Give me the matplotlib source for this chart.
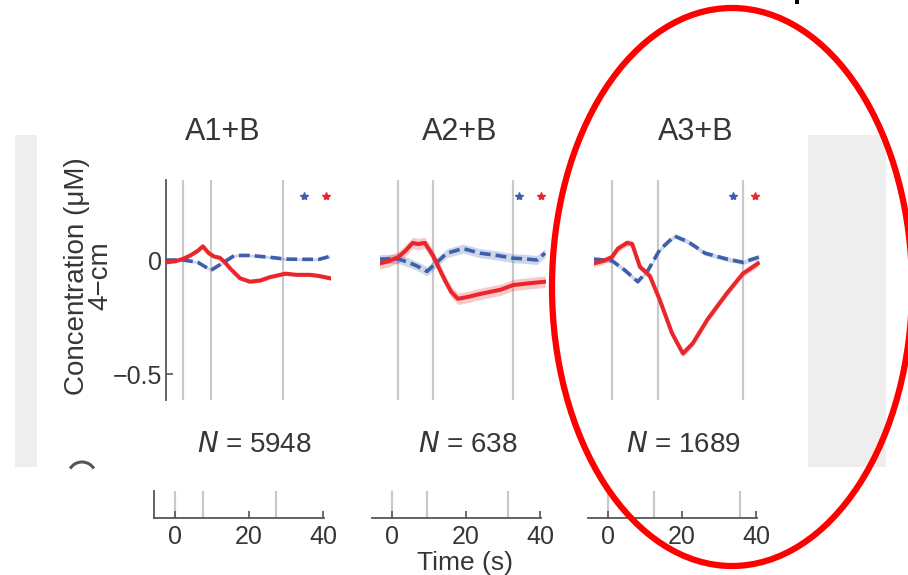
import matplotlib
matplotlib.use("Agg")
import matplotlib.pyplot as plt
from matplotlib.patches import Ellipse, Rectangle, Arc
import numpy as np

plt.rcParams['font.family'] = ['Liberation Sans', 'DejaVu Sans']

W, H = 908, 575

# ---- data (time in s, concentration in uM) ----
titles = ["A1+B", "A2+B", "A3+B"]
n_labels = ["5948", "638", "1689"]
event_times = [[0, 7.6, 27.2], [0, 9.5, 31.3], [0, 12.5, 35.6]]

red_t = [
    [-4.6, -2, 0, 2, 4, 5.4, 7, 8.5, 10, 11.4, 13, 15.5, 18.2, 21, 23.7, 27.8, 31, 34.6, 37, 40],
    [-5, -2.5, 0, 2, 4, 5.5, 7.3, 9.5, 11, 12.8, 14.5, 16.3, 18, 19.6, 22, 25, 28, 31.3, 34, 37, 40],
    [-5, -2.5, 0, 1.6, 4.1, 5.5, 7.6, 10.3, 13, 16.3, 19.3, 22, 26, 31.3, 35.6, 39.7],
]
red_v = [
    [-0.01, -0.005, 0.005, 0.02, 0.04, 0.06, 0.03, 0.015, 0.01, -0.01, -0.04, -0.08, -0.095, -0.09, -0.075, -0.06, -0.065, -0.065, -0.07, -0.08],
    [-0.015, -0.005, 0.012, 0.04, 0.075, 0.07, 0.075, 0.02, -0.03, -0.09, -0.14, -0.17, -0.165, -0.16, -0.15, -0.14, -0.13, -0.11, -0.105, -0.1, -0.095],
    [-0.015, -0.005, 0.013, 0.05, 0.075, 0.07, -0.03, -0.07, -0.175, -0.32, -0.41, -0.365, -0.26, -0.145, -0.06, -0.015],
]
red_err = [0.008, 0.025, 0.015]

blue_t = [
    [-4.6, 0, 4, 7.6, 10.6, 14, 18, 23.7, 27.8, 33, 37, 40],
    [-5, 0, 2.7, 5, 7.9, 10.6, 13.3, 17.7, 22.3, 27, 31.3, 34.5, 37.8, 40],
    [-5, 0, 3.5, 7, 9.8, 13, 17, 20.7, 25.3, 31.3, 35.6, 40],
]
blue_v = [
    [0.0, 0.0, -0.01, -0.045, -0.015, 0.02, 0.02, 0.012, 0.004, 0.003, 0.003, 0.016],
    [0.004, 0.005, -0.01, -0.025, -0.05, -0.01, 0.03, 0.05, 0.03, 0.02, 0.008, 0.005, 0.0, 0.03],
    [0.004, -0.003, -0.045, -0.095, -0.045, 0.045, 0.105, 0.08, 0.03, 0.004, -0.01, 0.013],
]
blue_err = [0.006, 0.02, 0.01]

x_ticks = [0, 20, 40]
y_ticks = [0, -0.5]
y_tick_labels = ["0", "\u22120.5"]

RED = "#e8262c"
BLUE = "#3d5fae"
VLINE = "#c9c9c9"
TXT = "#363636"

fig = plt.figure(figsize=(W / 100, H / 100), dpi=100)


def px_axes(x0, y0, x1, y1, **kw):
    return fig.add_axes([x0 / W, 1 - y1 / H, (x1 - x0) / W, (y1 - y0) / H], **kw)


# background layer in pixel coordinates
bg = px_axes(0, 0, W, H, zorder=0)
bg.set_xlim(0, W)
bg.set_ylim(H, 0)
bg.axis("off")
bg.add_patch(Rectangle((15, 135), 22, 332, color="#eeeeee", lw=0))
bg.add_patch(Rectangle((808, 135), 78, 332, color="#eeeeee", lw=0))
bg.add_patch(Arc((82, 476), 28, 28, theta1=212, theta2=328, color="#555555", lw=2.2))
bg.add_patch(Rectangle((795, 0), 4, 4, color="black", lw=0))

# ---- top row: concentration traces ----
scale = 3.675          # px per second
top_t0 = [183, 398, 612]
xmins = [-4.6, -5, -5]
y_top, y_bot = 180, 400
yzero = 260
yscale = 228           # px per uM

for i in range(3):
    x0 = top_t0[i] + xmins[i] * scale
    x1 = top_t0[i] + 40.3 * scale
    ax = px_axes(x0, y_top, x1, y_bot, zorder=2)
    ax.patch.set_alpha(0)
    ax.set_xlim(xmins[i], 40.3)
    ax.set_ylim((yzero - y_bot) / yscale, (yzero - y_top) / yscale)
    for sp in ["top", "right", "bottom"]:
        ax.spines[sp].set_visible(False)
    ax.set_xticks([])
    if i == 0:
        ax.spines["left"].set_color("#555555")
        ax.spines["left"].set_linewidth(1.3)
        ax.set_yticks(y_ticks)
        ax.set_yticklabels(y_tick_labels, fontsize=18, color=TXT)
        ax.tick_params(axis="y", direction="in", length=5, width=1.2, color="#555555", pad=3)
        fig.text(89 / W, 1 - 276 / H, "Concentration (\u03bcM)\n4\u2212cm", rotation=90,
                 ha="center", va="center", multialignment="center",
                 linespacing=0.88, fontsize=20, color=TXT)
    else:
        ax.spines["left"].set_visible(False)
        ax.set_yticks([])

    for et in event_times[i]:
        ax.axvline(et, color=VLINE, lw=1.6, zorder=1)

    bt = np.array(blue_t[i]); bv = np.array(blue_v[i])
    rt = np.array(red_t[i]); rv = np.array(red_v[i])
    ax.fill_between(bt, bv - blue_err[i], bv + blue_err[i], color=BLUE, alpha=0.25, lw=0, zorder=2)
    ax.fill_between(rt, rv - red_err[i], rv + red_err[i], color=RED, alpha=0.25, lw=0, zorder=2)
    ax.plot(bt, bv, color=BLUE, lw=2.6, ls=(0, (3.0, 1.4)), zorder=3)
    ax.plot(rt, rv, color=RED, lw=2.9, zorder=4, solid_joinstyle="round")
    ax.plot([33], [0.28], marker="*", ms=6, color=BLUE, ls="none", zorder=5)
    ax.plot([39], [0.28], marker="*", ms=6, color=RED, ls="none", zorder=5)

    title_x = [223, 460, 696][i]
    fig.text(title_x / W, 1 - 132 / H, titles[i], ha="center", va="center",
             fontsize=22, color=TXT)
    n_x = [254, 468, 683][i]
    fig.text(n_x / W, 1 - 445 / H, r"$\it{N}$ = " + n_labels[i], ha="center",
             va="center", fontsize=20, color=TXT)

# ---- bottom row: time axes ----
bot_t0 = [175, 392, 608]
bot_scale = 3.7
bot_xmin = [-5.7, -5.4, -5.4]
for i in range(3):
    x0 = bot_t0[i] + bot_xmin[i] * bot_scale
    x1 = bot_t0[i] + 40.2 * bot_scale
    ax = px_axes(x0, 491, x1, 518, zorder=2)
    ax.patch.set_alpha(0)
    ax.set_xlim(bot_xmin[i], 40.2)
    ax.set_ylim(0, 1)
    for sp in ["top", "right"]:
        ax.spines[sp].set_visible(False)
    ax.spines["bottom"].set_color("#555555")
    ax.spines["bottom"].set_linewidth(1.3)
    if i == 0:
        ax.spines["left"].set_color("#555555")
        ax.spines["left"].set_linewidth(1.3)
    else:
        ax.spines["left"].set_visible(False)
    ax.set_yticks([])
    ax.set_xticks(x_ticks)
    ax.set_xticklabels([str(v) for v in x_ticks], fontsize=18, color=TXT)
    ax.tick_params(axis="x", direction="in", length=5, width=1.2, color="#555555", pad=5)
    for et in event_times[i]:
        ax.axvline(et, color=VLINE, lw=1.6, zorder=1)

fig.text(465 / W, 1 - 563 / H, "Time (s)", ha="center", va="center", fontsize=19, color=TXT)

# ---- highlight ellipse ----
ov = px_axes(0, 0, W, H, zorder=10)
ov.patch.set_alpha(0)
ov.set_xlim(0, W)
ov.set_ylim(H, 0)
ov.axis("off")
ov.add_patch(Ellipse((732, 287), 360, 558, fill=False, ec="#ff0000", lw=4.5))

fig.savefig("out.png", dpi=100)
